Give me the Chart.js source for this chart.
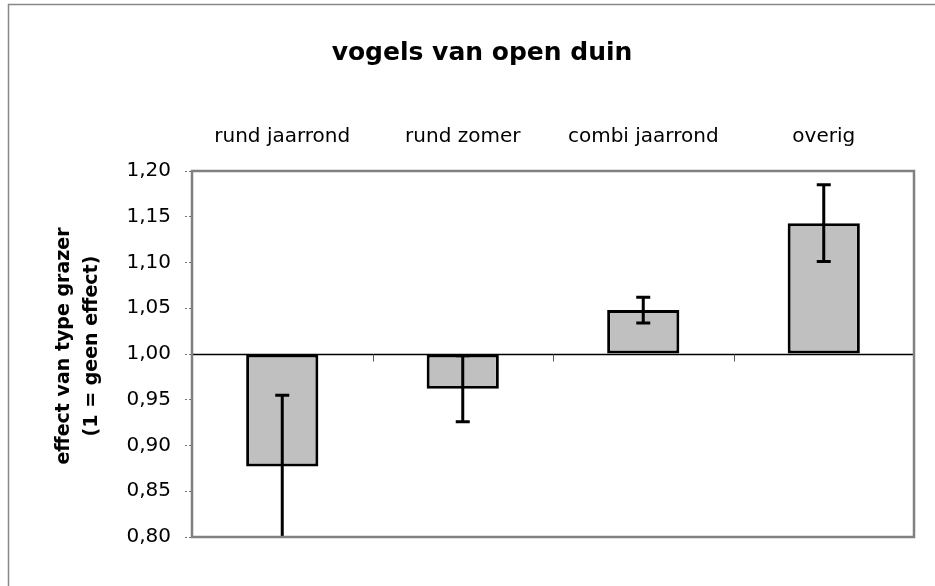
<!DOCTYPE html>
<html>
<head>
<meta charset="utf-8">
<script src="https://cdn.jsdelivr.net/npm/chart.js@4.4.1/dist/chart.umd.min.js"></script>
<style>
  body { margin: 0; background: #fff; }
  #wrap { width: 935px; height: 586px; }
</style>
</head>
<body>
<div id="wrap"><canvas id="chart1" width="935" height="586"></canvas></div>
<script>
// data
const categories = ['rund jaarrond', 'rund zomer', 'combi jaarrond', 'overig'];
const effect = [0.877, 0.962, 1.048, 1.143];
const errorMargin = [0.078, 0.036, 0.014, 0.042];
const yMin = 0.80, yMax = 1.20, yStep = 0.05;
const baseline = 1.00;
const chartTitle = 'vogels van open duin';
const yTitle = ['effect van type grazer', '(1 = geen effect)'];

const FONT = 'DejaVu Sans';

// title, axis title, 1,00 line, error bars and the frames
const extras = {
    id: 'extras',
    beforeDraw(chart) {
        const c = chart.ctx;
        c.save();
        c.strokeStyle = '#888888';
        c.lineWidth = 1.5;
        c.strokeRect(8.5, 4.5, 960, 620);
        c.fillStyle = '#000';
        c.font = 'bold 25px "' + FONT + '"';
        c.textAlign = 'center';
        c.textBaseline = 'middle';
        c.fillText(chartTitle, 482, 53);
        // y axis title, two lines rotated
        c.font = 'bold 19px "' + FONT + '"';
        c.translate(0, 346);
        c.rotate(-Math.PI / 2);
        c.fillText(yTitle[0], 0, 64);
        c.fillText(yTitle[1], 0, 92);
        c.restore();
    },
    afterDatasetsDraw(chart) {
        const c = chart.ctx;
        const x = chart.scales.x;
        const y = chart.scales.y;
        const area = chart.chartArea;
        const y0 = Math.round(y.getPixelForValue(baseline)) + 0.5;
        const step = (x.right - x.left) / categories.length;
        c.save();
        // baseline with category tick marks
        c.strokeStyle = '#000';
        c.lineWidth = 1.5;
        c.beginPath();
        c.moveTo(area.left, y0);
        c.lineTo(area.right, y0);
        c.stroke();
        c.strokeStyle = '#555';
        c.lineWidth = 1;
        for (let i = 1; i <= categories.length; i++) {
            const tx = Math.round(x.left + i * step) + 0.5;
            c.beginPath();
            c.moveTo(tx, y0);
            c.lineTo(tx, y0 + 7);
            c.stroke();
        }
        // error bars
        c.strokeStyle = '#000';
        c.lineWidth = 3;
        effect.forEach((v, i) => {
            const px = x.getPixelForValue(i);
            const hi = v + errorMargin[i];
            const lo = v - errorMargin[i];
            const pyHi = y.getPixelForValue(Math.min(hi, yMax));
            const pyLo = y.getPixelForValue(Math.max(lo, yMin));
            c.beginPath();
            c.moveTo(px, pyHi);
            c.lineTo(px, pyLo);
            if (hi <= yMax) { c.moveTo(px - 7, pyHi); c.lineTo(px + 7, pyHi); }
            if (lo >= yMin) { c.moveTo(px - 7, pyLo); c.lineTo(px + 7, pyLo); }
            c.stroke();
        });
        // plot area frame
        c.strokeStyle = '#808080';
        c.lineWidth = 2.5;
        c.strokeRect(area.left, area.top, area.right - area.left, area.bottom - area.top);
        c.restore();
    }
};

new Chart(document.getElementById('chart1'), {
    type: 'bar',
    data: {
        labels: categories,
        datasets: [{
            data: effect,
            base: baseline,
            backgroundColor: '#c0c0c0',
            borderColor: '#000',
            borderWidth: 3,
            borderSkipped: false,
            barPercentage: 0.4,
            categoryPercentage: 1
        }]
    },
    options: {
        responsive: false,
        animation: false,
        layout: { padding: { left: 0, right: 21, top: 0, bottom: 49 } },
        scales: {
            x: {
                position: 'top',
                grid: { display: false },
                border: { display: false },
                ticks: {
                    color: '#000',
                    font: { family: FONT, size: 20 },
                    padding: 14,
                    maxRotation: 0
                },
                afterFit(scale) { scale.height = 171; }
            },
            y: {
                min: yMin,
                max: yMax,
                grid: {
                    drawOnChartArea: false,
                    drawTicks: true,
                    tickLength: 7,
                    tickColor: '#707070',
                    tickBorderDash: [2, 2],
                    tickWidth: 1
                },
                border: { display: false },
                ticks: {
                    stepSize: yStep,
                    color: '#000',
                    font: { family: FONT, size: 20 },
                    padding: 14,
                    callback: v => v.toFixed(2).replace('.', ',')
                },
                afterFit(scale) { scale.width = 192; }
            }
        },
        plugins: {
            legend: { display: false },
            tooltip: { enabled: false }
        }
    },
    plugins: [extras]
});
</script>
</body>
</html>
